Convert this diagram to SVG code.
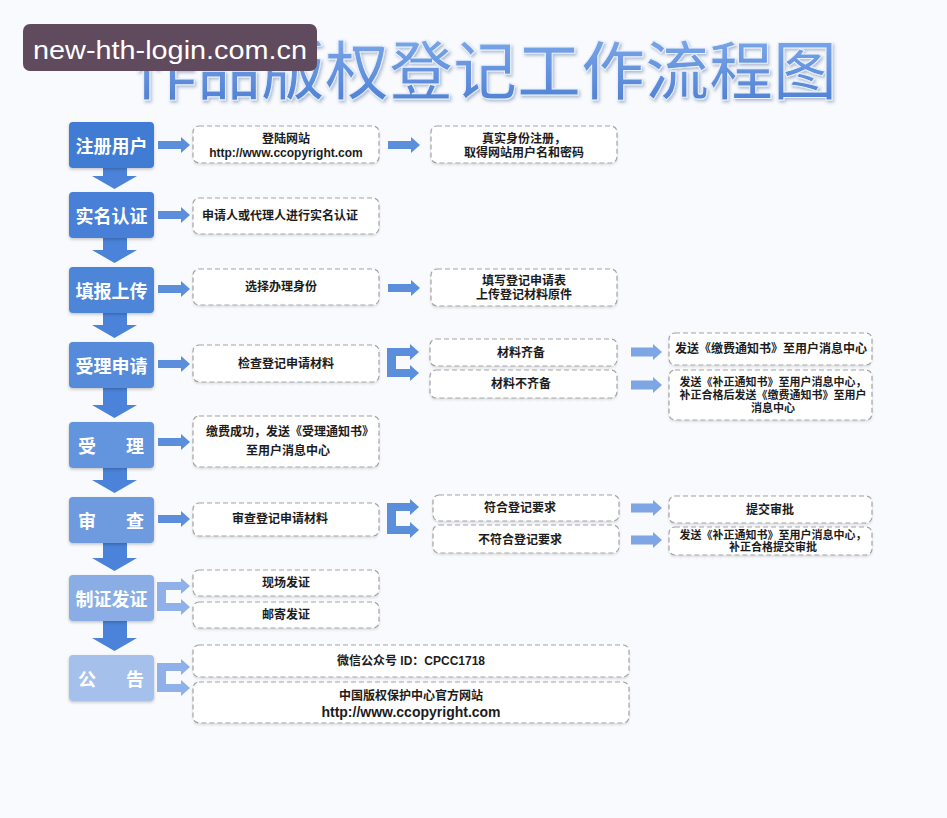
<svg xmlns="http://www.w3.org/2000/svg" width="947" height="818" viewBox="0 0 947 818">
<defs>
<linearGradient id="titleGrad" x1="0" y1="0" x2="0" y2="1">
<stop offset="0" stop-color="#86b0ef"/>
<stop offset="1" stop-color="#4a7cd0"/>
</linearGradient>
<filter id="sh" x="-10%" y="-20%" width="120%" height="150%">
<feDropShadow dx="0" dy="1.5" stdDeviation="1.5" flood-color="#000" flood-opacity="0.22"/>
</filter>
<filter id="sh2" x="-10%" y="-20%" width="120%" height="150%">
<feDropShadow dx="0" dy="1.5" stdDeviation="1.2" flood-color="#000" flood-opacity="0.12"/>
</filter>
<filter id="tsh" x="-5%" y="-20%" width="110%" height="150%">
<feDropShadow dx="1.5" dy="2" stdDeviation="1.5" flood-color="#2a4a80" flood-opacity="0.35"/>
</filter>
</defs>
<style>
.lb{filter:url(#sh)}
.lt{font-family:"Noto Sans CJK SC","Noto Sans",sans-serif;font-weight:bold;font-size:18px;fill:#ffffff;text-anchor:middle;dominant-baseline:central}
.db{fill:#ffffff;stroke:#a3a3a3;stroke-width:1.2;stroke-dasharray:5 3;filter:url(#sh2)}
.t{font-family:"Liberation Sans","Noto Sans CJK SC",sans-serif;font-weight:bold;font-size:12px;fill:#1c1c1c;text-anchor:middle;dominant-baseline:central}
.ts{font-size:11px}
.da{fill:#4a83d9}
.ra{fill:#5b8fdc}
.ca{fill:#7fa6e4}
.la{fill:#8fb0e8}
</style>
<rect x="0" y="0" width="947" height="818" fill="#f8fafd"/>

<g id="title">
<text x="485" y="66" font-family="Noto Sans CJK SC, sans-serif" font-size="64" font-weight="500" fill="url(#titleGrad)" stroke="#e8f0fc" stroke-width="1" text-anchor="middle" dominant-baseline="central" filter="url(#tsh)">作品版权登记工作流程图</text>
</g>
<g id="watermark">
<rect x="23" y="24" width="294" height="47" rx="7" fill="#604a5d"/>
<text x="33" y="59" font-family="Liberation Sans, sans-serif" font-size="26" fill="#ffffff" textLength="274" lengthAdjust="spacingAndGlyphs">new-hth-login.com.cn</text>
</g>

<g id="connectors">
<path class="da" d="M103 168 H127 V176 H137 L114.5 189 L92 176 H103 Z"/>
<path class="da" d="M103 238 H127 V250 H137 L114.5 263 L92 250 H103 Z"/>
<path class="da" d="M103 313 H127 V325 H137 L114.5 338 L92 325 H103 Z"/>
<path class="da" d="M103 388 H127 V405 H137 L114.5 418 L92 405 H103 Z"/>
<path class="da" d="M103 468 H127 V480 H137 L114.5 493 L92 480 H103 Z"/>
<path class="da" d="M103 543 H127 V558 H137 L114.5 571 L92 558 H103 Z"/>
<path class="da" d="M103 621 H127 V638 H137 L114.5 651 L92 638 H103 Z"/>

<path class="ra" d="M158 141 H181 V137 L190 145 L181 153 V149 H158 Z"/>
<path class="ra" d="M158 211 H181 V207 L190 215 L181 223 V219 H158 Z"/>
<path class="ra" d="M158 285 H181 V281 L190 289 L181 297 V293 H158 Z"/>
<path class="ra" d="M158 360 H181 V356 L190 364 L181 372 V368 H158 Z"/>
<path class="ra" d="M158 438 H181 V434 L190 442 L181 450 V446 H158 Z"/>
<path class="ra" d="M158 515 H181 V511 L190 519 L181 527 V523 H158 Z"/>

<path class="ra" d="M388 141 H411 V137 L420 145 L411 153 V149 H388 Z"/>
<path class="ra" d="M388 284 H411 V280 L420 288 L411 296 V292 H388 Z"/>

<path class="ra" d="M387 348 H410 V344 L419 352 L410 360 V356 H396 V369 H410 V365 L419 373 L410 381 V377 H387 Z"/>
<path class="ra" d="M387 503 H410 V499 L419 507 L410 515 V511 H396 V526 H410 V522 L419 530 L410 538 V534 H387 Z"/>

<path class="ca" d="M631 347.5 H653 V344 L662 352 L653 360 V356.5 H631 Z"/>
<path class="ca" d="M631 380.5 H653 V377 L662 385 L653 393 V389.5 H631 Z"/>
<path class="ca" d="M631 503.5 H653 V500 L662 508 L653 516 V512.5 H631 Z"/>
<path class="ca" d="M631 535.5 H653 V532 L662 540 L653 548 V544.5 H631 Z"/>

<path class="la" d="M157 582 H181 V578 L190 586 L181 594 V590 H166 V603 H181 V599 L190 607 L181 615 V611 H157 Z"/>
<path class="la" d="M157 663 H181 V659 L190 667 L181 675 V671 H166 V684 H181 V680 L190 688 L181 696 V692 H157 Z"/>
</g>

<g id="step1"><rect class="lb" x="69" y="122" width="85" height="46" rx="4" fill="#3f7bd4"/><text class="lt" x="111.5" y="145">注册用户</text></g>
<g id="step2"><rect class="lb" x="69" y="192" width="85" height="46" rx="4" fill="#4680d6"/><text class="lt" x="111.5" y="215">实名认证</text></g>
<g id="step3"><rect class="lb" x="69" y="267" width="85" height="46" rx="4" fill="#4d85d8"/><text class="lt" x="111.5" y="290">填报上传</text></g>
<g id="step4"><rect class="lb" x="69" y="342" width="85" height="46" rx="4" fill="#568bdb"/><text class="lt" x="111.5" y="365">受理申请</text></g>
<g id="step5"><rect class="lb" x="69" y="422" width="85" height="46" rx="4" fill="#6394de"/><text class="lt" x="111.5" y="445"><tspan x="87">受</tspan><tspan x="135">理</tspan></text></g>
<g id="step6"><rect class="lb" x="69" y="497" width="85" height="46" rx="4" fill="#6e9be0"/><text class="lt" x="111.5" y="520"><tspan x="87">审</tspan><tspan x="135">查</tspan></text></g>
<g id="step7"><rect class="lb" x="69" y="575" width="85" height="46" rx="4" fill="#8aade6"/><text class="lt" x="111.5" y="598">制证发证</text></g>
<g id="step8"><rect class="lb" x="69" y="655" width="85" height="46" rx="4" fill="#a6c0ec"/><text class="lt" x="111.5" y="678"><tspan x="87">公</tspan><tspan x="135">告</tspan></text></g>

<g id="a1"><rect class="db" x="193" y="126" width="186" height="37" rx="6"/><text class="t" x="286" y="139">登陆网站</text><text class="t" x="286" y="153">http://www.ccopyright.com</text></g>
<g id="b1"><rect class="db" x="431" y="126" width="186" height="37" rx="6"/><text class="t" x="524" y="139">真实身份注册，</text><text class="t" x="524" y="153">取得网站用户名和密码</text></g>
<g id="a2"><rect class="db" x="193" y="198" width="186" height="36" rx="6"/><text class="t" x="280" y="216">申请人或代理人进行实名认证</text></g>
<g id="a3"><rect class="db" x="193" y="269" width="186" height="36" rx="6"/><text class="t" x="281" y="287">选择办理身份</text></g>
<g id="b3"><rect class="db" x="431" y="269" width="186" height="37" rx="6"/><text class="t" x="524" y="281">填写登记申请表</text><text class="t" x="524" y="295">上传登记材料原件</text></g>
<g id="a4"><rect class="db" x="193" y="345" width="186" height="37" rx="6"/><text class="t" x="286" y="364">检查登记申请材料</text></g>
<g id="b4a"><rect class="db" x="430" y="339" width="187" height="27" rx="6"/><text class="t" x="521" y="353">材料齐备</text></g>
<g id="b4b"><rect class="db" x="430" y="370" width="187" height="28" rx="6"/><text class="t" x="521" y="384">材料不齐备</text></g>
<g id="c4a"><rect class="db" x="669" y="333" width="203" height="32" rx="6"/><text class="t" x="771" y="349">发送《缴费通知书》至用户消息中心</text></g>
<g id="c4b"><rect class="db" x="669" y="370" width="203" height="50" rx="6"/><text class="t ts" x="773" y="382">发送《补正通知书》至用户消息中心，</text><text class="t ts" x="773" y="395">补正合格后发送《缴费通知书》至用户</text><text class="t ts" x="773" y="408">消息中心</text></g>
<g id="a5"><rect class="db" x="193" y="416" width="186" height="51" rx="6"/><text class="t" x="290" y="432">缴费成功，发送《受理通知书》</text><text class="t" x="288" y="451">至用户消息中心</text></g>
<g id="a6"><rect class="db" x="193" y="503" width="186" height="33" rx="6"/><text class="t" x="280" y="519">审查登记申请材料</text></g>
<g id="b6a"><rect class="db" x="433" y="495" width="186" height="26" rx="6"/><text class="t" x="520" y="508">符合登记要求</text></g>
<g id="b6b"><rect class="db" x="433" y="525" width="186" height="28" rx="6"/><text class="t" x="520" y="540">不符合登记要求</text></g>
<g id="c6a"><rect class="db" x="669" y="496" width="203" height="27" rx="6"/><text class="t" x="770" y="510">提交审批</text></g>
<g id="c6b"><rect class="db" x="669" y="527" width="203" height="28" rx="6"/><text class="t ts" x="773" y="535">发送《补正通知书》至用户消息中心，</text><text class="t ts" x="773" y="547">补正合格提交审批</text></g>
<g id="a7a"><rect class="db" x="193" y="570" width="186" height="26" rx="6"/><text class="t" x="286" y="583">现场发证</text></g>
<g id="a7b"><rect class="db" x="193" y="602" width="186" height="26" rx="6"/><text class="t" x="286" y="615">邮寄发证</text></g>
<g id="a8a"><rect class="db" x="193" y="645" width="436" height="32" rx="6"/><text class="t" x="411" y="661">微信公众号 ID：CPCC1718</text></g>
<g id="a8b"><rect class="db" x="193" y="682" width="436" height="41" rx="6"/><text class="t" x="411" y="696">中国版权保护中心官方网站</text><text class="t" x="411" y="712" style="font-size:14px">http://www.ccopyright.com</text></g>
</svg>
